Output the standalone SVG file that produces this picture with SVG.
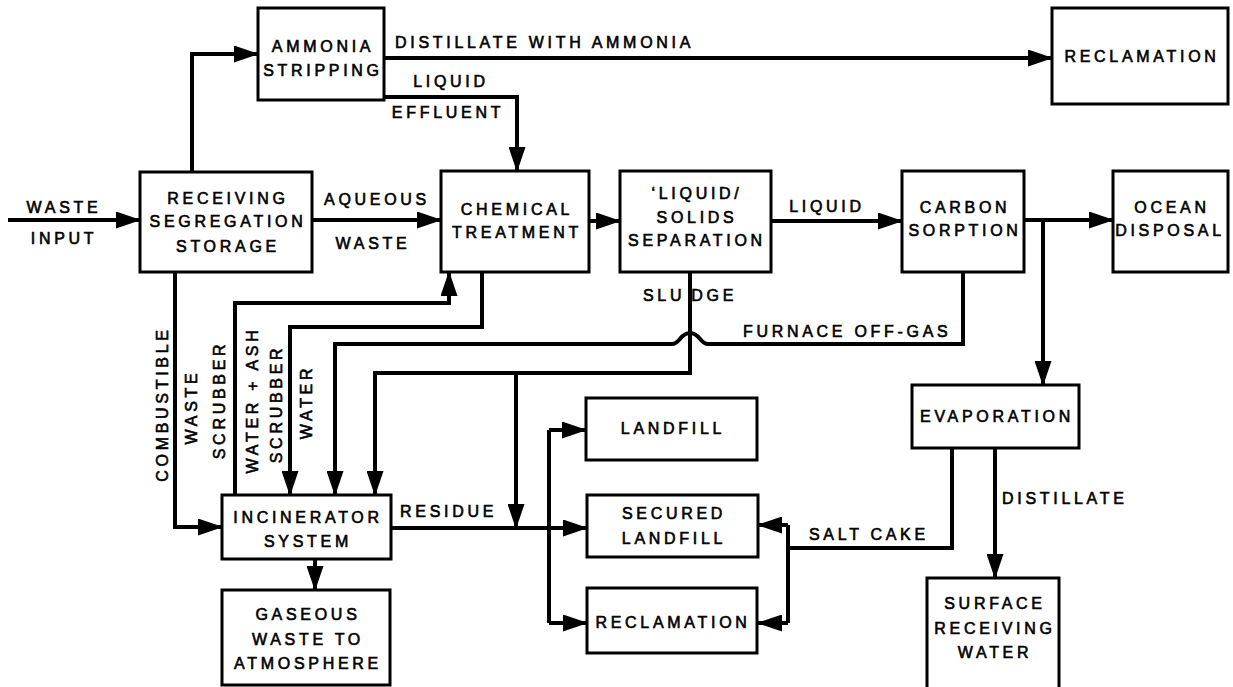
<svg xmlns="http://www.w3.org/2000/svg" width="1233" height="687" viewBox="0 0 1233 687">
<defs>
<marker id="ah" markerUnits="userSpaceOnUse" markerWidth="25" markerHeight="17" refX="24" refY="8.5" orient="auto">
<path d="M0,0 L25,8.5 L0,17 z" fill="#000"/>
</marker>
<style>
.box{fill:#fff;stroke:#000;stroke-width:3}
.t{font-family:"Liberation Sans",Arial,Helvetica,sans-serif;font-size:16px;letter-spacing:3.7px;fill:#000;stroke:#000;stroke-width:0.6px;text-anchor:middle}
.l{font-family:"Liberation Sans",Arial,Helvetica,sans-serif;font-size:16px;letter-spacing:3.7px;fill:#000;stroke:#000;stroke-width:0.6px}
.c{fill:none;stroke:#000;stroke-width:4;stroke-linejoin:miter}
.a{marker-end:url(#ah)}
</style>
</defs>
<rect width="1233" height="687" fill="#fff"/>

<g id="connectors">
<path class="c a" d="M8,220 L140,220"/>
<path class="c a" d="M192,172 L192,54 L258,54"/>
<path class="c a" d="M384,58 L1052,58"/>
<path class="c a" d="M384,97 L517,97 L517,171"/>
<path class="c a" d="M312,220 L441,220"/>
<path class="c a" d="M589,221 L620,221"/>
<path class="c a" d="M771,221 L902,221"/>
<path class="c a" d="M1024,220 L1113,220"/>
<path class="c a" d="M1043,220 L1043,385"/>
<path class="c a" d="M175,272 L175,527 L222,527"/>
<path class="c a" d="M235,495 L235,303 L449,303 L449,272"/>
<path class="c a" d="M482,272 L482,327 L290,327 L290,495"/>
<path class="c a" d="M963,272 L963,344 L708,344 C700,344 700,333 690,333 C680,333 680,344 672,344 L335,344 L335,495"/>
<path class="c a" d="M690,272 L690,373 L375,373 L375,495"/>
<path class="c a" d="M516,373 L516,528"/>
<path class="c a" d="M391,528 L587,528"/>
<path class="c" d="M549,430 L549,623"/>
<path class="c a" d="M549,430 L586,430"/>
<path class="c a" d="M549,623 L587,623"/>
<path class="c a" d="M315,559 L315,590"/>
<path class="c" d="M952,448 L952,548 L788,548"/>
<path class="c" d="M788,525 L788,623"/>
<path class="c a" d="M788,525 L758,525"/>
<path class="c a" d="M788,623 L758,623"/>
<path class="c a" d="M995,448 L995,578"/>
</g>

<g id="labels">
<text class="t" x="64" y="213">WASTE</text>
<text class="t" x="64" y="244">INPUT</text>
<text class="t" x="377" y="205">AQUEOUS</text>
<text class="t" x="373" y="249">WASTE</text>
<text class="l" x="395" y="48">DISTILLATE WITH AMMONIA</text>
<text class="t" x="451" y="87">LIQUID</text>
<text class="t" x="448" y="118">EFFLUENT</text>
<text class="t" x="827" y="212">LIQUID</text>
<text class="l" x="643" y="301">SLU<tspan dx="6">DGE</tspan></text>
<text class="l" x="743" y="337">FURNACE OFF-GAS</text>
<text class="l" x="400" y="517">RESIDUE</text>
<text class="l" x="809" y="540">SALT CAKE</text>
<text class="l" x="1002" y="504">DISTILLATE</text>
<text class="t" transform="translate(168,404) rotate(-90)">COMBUSTIBLE</text>
<text class="t" transform="translate(197,407) rotate(-90)">WASTE</text>
<text class="t" transform="translate(225,400) rotate(-90)">SCRUBBER</text>
<text class="t" transform="translate(258,400) rotate(-90)">WATER + ASH</text>
<text class="t" transform="translate(282,404) rotate(-90)">SCRUBBER</text>
<text class="t" transform="translate(312,402) rotate(-90)">WATER</text>
</g>

<g id="ammonia-stripping">
<rect class="box" x="258" y="8" width="126" height="92"/>
<text class="t" x="323" y="52">AMMONIA</text>
<text class="t" x="323" y="76">STRIPPING</text>
</g>
<g id="reclamation-top">
<rect class="box" x="1052" y="8" width="176" height="96"/>
<text class="t" x="1142" y="62">RECLAMATION</text>
</g>
<g id="receiving">
<rect class="box" x="140" y="172" width="172" height="100"/>
<text class="t" x="228" y="204">RECEIVING</text>
<text class="t" x="228" y="227">SEGREGATION</text>
<text class="t" x="228" y="252">STORAGE</text>
</g>
<g id="chemical-treatment">
<rect class="box" x="441" y="171" width="148" height="101"/>
<text class="t" x="517" y="215">CHEMICAL</text>
<text class="t" x="517" y="238">TREATMENT</text>
</g>
<g id="liquid-solids-separation">
<rect class="box" x="620" y="171" width="151" height="101"/>
<text class="t" x="697" y="199">‘LIQUID/</text>
<text class="t" x="697" y="223">SOLIDS</text>
<text class="t" x="697" y="246">SEPARATION</text>
</g>
<g id="carbon-sorption">
<rect class="box" x="902" y="171" width="122" height="101"/>
<text class="t" x="965" y="213">CARBON</text>
<text class="t" x="965" y="236">SORPTION</text>
</g>
<g id="ocean-disposal">
<rect class="box" x="1113" y="171" width="115" height="101"/>
<text class="t" x="1172" y="213">OCEAN</text>
<text class="t" x="1170" y="236">DISPOSAL</text>
</g>
<g id="evaporation">
<rect class="box" x="912" y="385" width="167" height="63"/>
<text class="t" x="997" y="422">EVAPORATION</text>
</g>
<g id="landfill">
<rect class="box" x="586" y="398" width="171" height="62"/>
<text class="t" x="673" y="434">LANDFILL</text>
</g>
<g id="incinerator-system">
<rect class="box" x="222" y="495" width="169" height="64"/>
<text class="t" x="308" y="523">INCINERATOR</text>
<text class="t" x="308" y="547">SYSTEM</text>
</g>
<g id="secured-landfill">
<rect class="box" x="587" y="495" width="171" height="62"/>
<text class="t" x="674" y="519">SECURED</text>
<text class="t" x="674" y="544">LANDFILL</text>
</g>
<g id="reclamation-bottom">
<rect class="box" x="587" y="588" width="170" height="65"/>
<text class="t" x="673" y="628">RECLAMATION</text>
</g>
<g id="gaseous-waste">
<rect class="box" x="222" y="590" width="168" height="95"/>
<text class="t" x="308" y="620">GASEOUS</text>
<text class="t" x="308" y="645">WASTE TO</text>
<text class="t" x="308" y="669">ATMOSPHERE</text>
</g>
<g id="surface-receiving-water">
<rect class="box" x="927" y="578" width="132" height="120"/>
<text class="t" x="995" y="609">SURFACE</text>
<text class="t" x="995" y="634">RECEIVING</text>
<text class="t" x="995" y="658">WATER</text>
</g>
</svg>
